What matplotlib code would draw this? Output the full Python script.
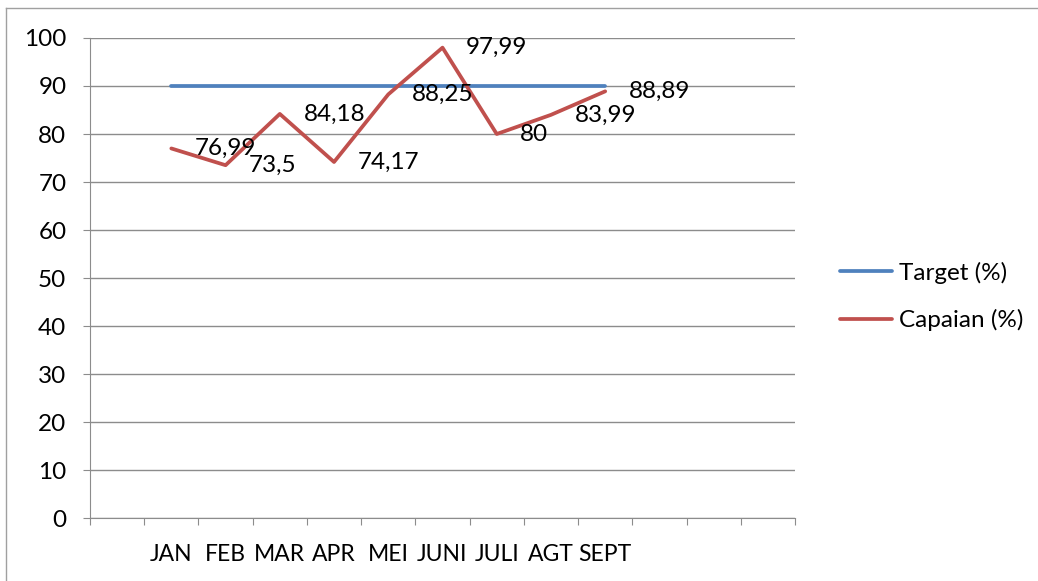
import matplotlib
matplotlib.use("Agg")
import matplotlib.pyplot as plt
from matplotlib.lines import Line2D

plt.rcParams['font.family'] = ['Lato', 'DejaVu Sans']

# categories (first and last slots are empty, as in the original sheet)
months = ["", "JAN", "FEB", "MAR", "APR", "MEI", "JUNI", "JULI", "AGT", "SEPT", "", "", ""]
target = [90, 90, 90, 90, 90, 90, 90, 90, 90]
capaian = [76.99, 73.5, 84.18, 74.17, 88.25, 97.99, 80, 83.99, 88.89]
capaian_labels = ["76,99", "73,5", "84,18", "74,17", "88,25", "97,99", "80", "83,99", "88,89"]

blue = "#4F81BD"
red = "#C0504D"
grey = "#8C8C8C"
fs = 17.5

fig = plt.figure(figsize=(10.38, 5.81), dpi=100)
ax = fig.add_axes([0.0867, 0.1084, 0.6792, 0.8262])

xs = list(range(1, 1 + len(target)))
ax.plot(xs, target, color=blue, lw=2.7, solid_capstyle='round', label="Target (%)")
ax.plot(xs, capaian, color=red, lw=2.7, solid_capstyle='round', label="Capaian (%)")

for x, v, t in zip(xs, capaian, capaian_labels):
    ax.annotate(t, (x, v), xytext=(17, 0), textcoords='offset points',
                va='center', ha='left', fontsize=fs, color='black')

ax.set_xlim(-0.5, len(months) - 0.5)
ax.set_ylim(0, 100)
ax.set_yticks(range(0, 101, 10))
ax.yaxis.grid(True, color=grey, lw=1)
ax.set_axisbelow(True)

# boundary ticks, labels in the middle of each slot
ax.set_xticks([i - 0.5 for i in range(len(months) + 1)])
ax.set_xticklabels([])
ax.set_xticks(range(len(months)), minor=True)
ax.set_xticklabels(months, minor=True, fontsize=fs - 1)
ax.tick_params(axis='x', which='major', length=5, color=grey)
ax.tick_params(axis='x', which='minor', length=0, pad=19)
ax.tick_params(axis='y', length=5, color=grey, labelsize=fs, pad=12)

for s in ['top', 'right']:
    ax.spines[s].set_visible(False)
for s in ['left', 'bottom']:
    ax.spines[s].set_color(grey)

fig.legend(loc='center left', bbox_to_anchor=(0.788, 0.4895), frameon=False,
           fontsize=fs, handlelength=2.15, handletextpad=0.3, labelspacing=1.05)

# chart area border
fig.add_artist(Line2D([0.006, 0.006], [0, 0.986], color='#A0A0A0', lw=1))
fig.add_artist(Line2D([0.006, 1.0], [0.986, 0.986], color='#A0A0A0', lw=1))

fig.savefig("out.png", dpi=100)
